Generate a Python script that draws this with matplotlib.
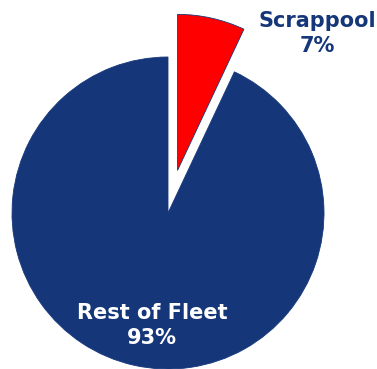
import matplotlib.pyplot as plt

labels = ['Scrappool', 'Rest of Fleet']
shares = [7, 93]
colors = ['#FF0000', '#15377A']
explode = [0.28, 0]

fig = plt.figure(figsize=(3.77, 3.69), dpi=100)
ax = fig.add_axes([0, 0, 1, 1])

ax.pie(shares, colors=colors, explode=explode, startangle=90, counterclock=False,
       radius=1, wedgeprops=dict(edgecolor='#15377A', linewidth=0.6))

ax.set_xlim(-168 / 156, (377 - 168) / 156)
ax.set_ylim(-156 / 156, (369 - 156) / 156)
ax.set_aspect('equal')
ax.axis('off')

ax.text(0.955, 1.15, f'{labels[0]}\n{shares[0]}%', ha='center', va='center',
        color='#15377A', fontsize=15, fontweight='bold', linespacing=1.35)
ax.text(-0.103, -0.72, f'{labels[1]}\n{shares[1]}%', ha='center', va='center',
        color='white', fontsize=15, fontweight='bold', linespacing=1.35)

fig.savefig('out.png', dpi=100)
